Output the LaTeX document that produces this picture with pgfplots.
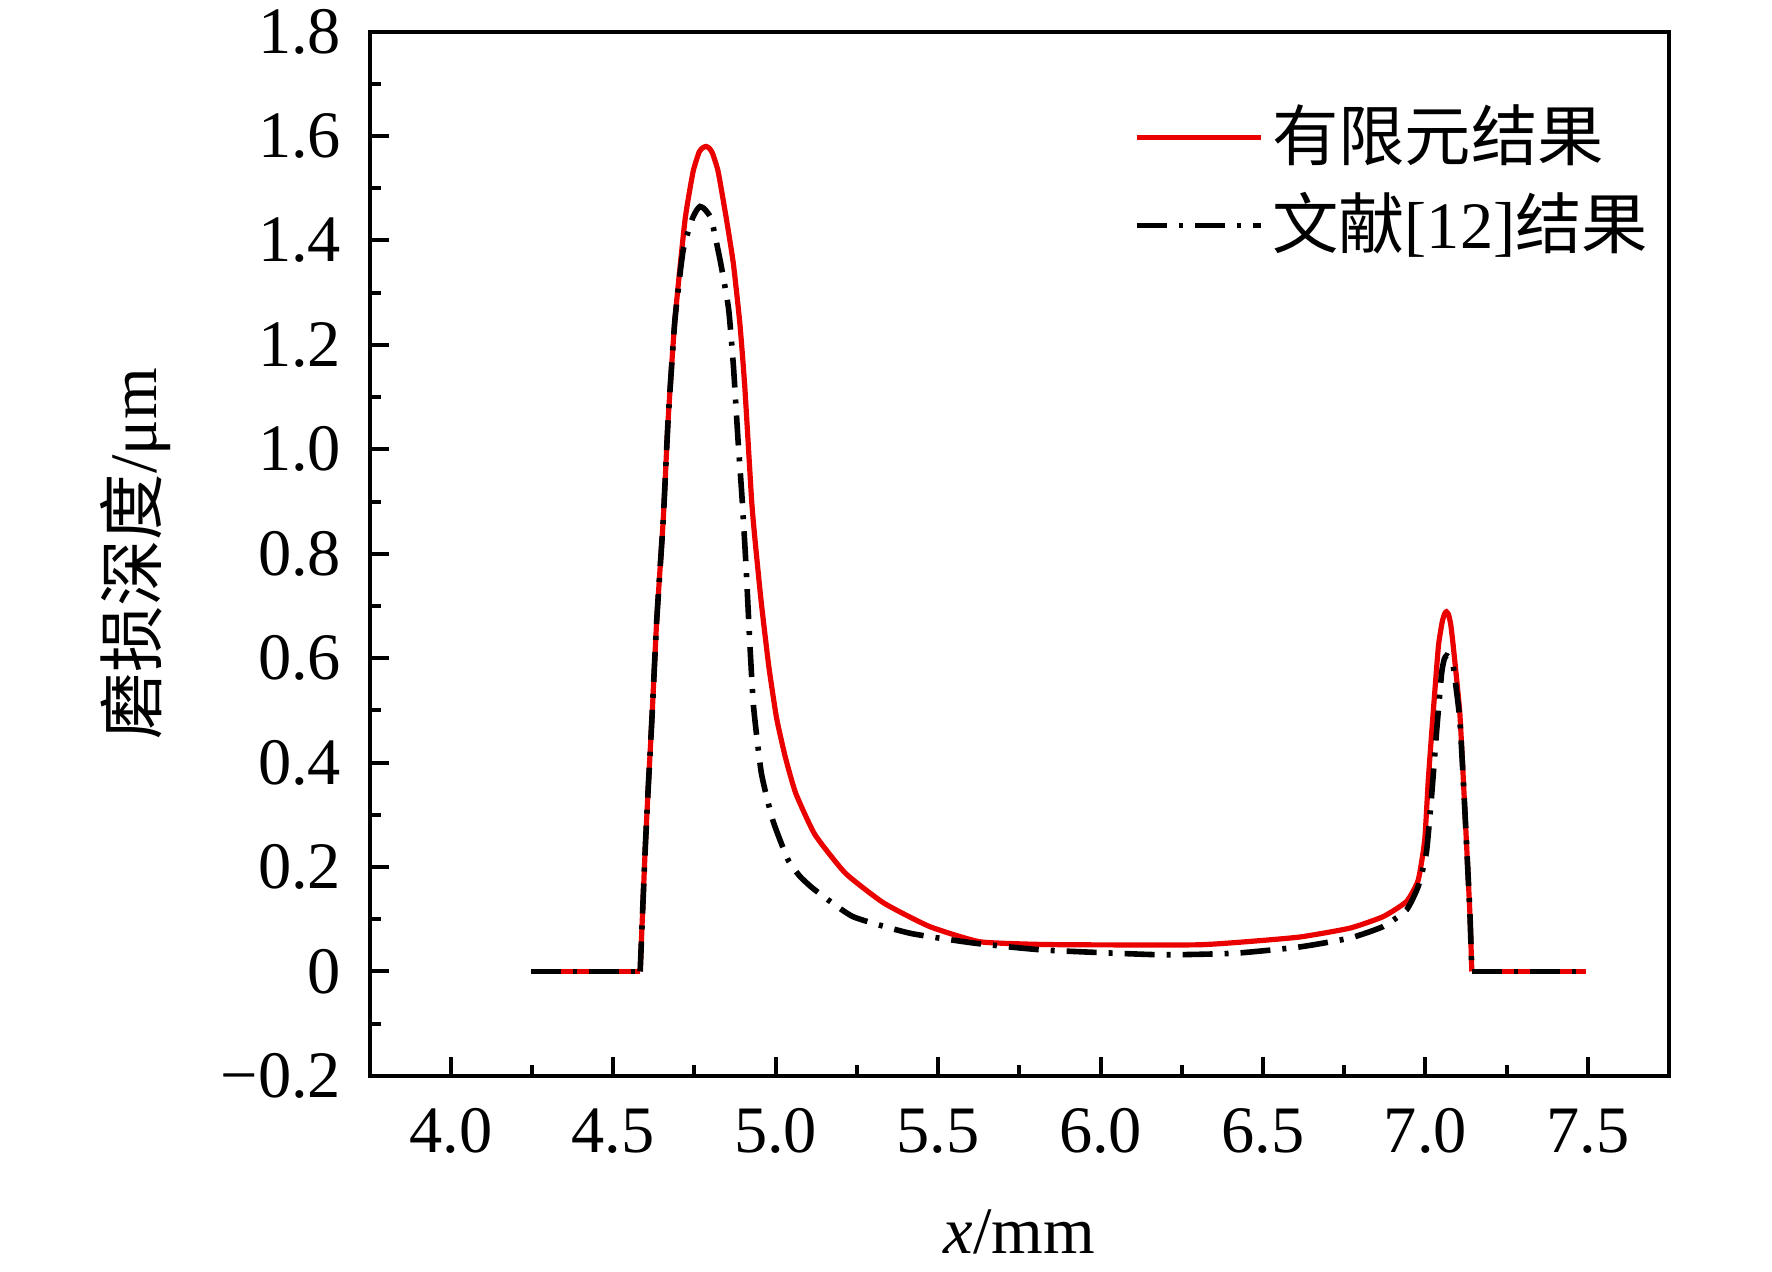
\documentclass[border=0pt]{standalone}
\usepackage{pgfplots}
\pgfplotsset{compat=1.18}
\usepackage{fontspec}
\setmainfont{Liberation Serif}
\newfontfamily\cjk{Noto Sans CJK SC}
\definecolor{fem}{RGB}{235,0,0}
\begin{document}
\fontsize{16.6}{20}\selectfont
\begin{tikzpicture}
\begin{axis}[
  scale only axis,
  width=324.9pt, height=261.1pt,
  xmin=3.75, xmax=7.75, ymin=-0.2, ymax=1.8,
  xtick={4.0,4.5,5.0,5.5,6.0,6.5,7.0,7.5},
  xticklabels={4.0,4.5,5.0,5.5,6.0,6.5,7.0,7.5},
  ytick={-0.2,0,0.2,0.4,0.6,0.8,1.0,1.2,1.4,1.6,1.8},
  yticklabels={−0.2,0,0.2,0.4,0.6,0.8,1.0,1.2,1.4,1.6,1.8},
  minor x tick num=1, minor y tick num=1,
  xtick pos=bottom, ytick pos=left,
  tick align=inside,
  major tick length=4.75pt, minor tick length=2.75pt,
  axis line style={line width=1pt},
  every tick/.style={line width=1pt, black},
  tick label style={font=\fontsize{16.6}{20}\selectfont},
  xticklabel style={yshift=-2.5pt},
  yticklabel style={xshift=-1.4pt},
  xlabel={\textit{x}/mm},
  ylabel={{\cjk 磨损深度}/μm},
  label style={font=\fontsize{16.6}{20}\selectfont},
  xlabel style={at={(axis description cs:0.5,-0.149)}, anchor=center},
  ylabel style={at={(axis description cs:-0.18,0.5)}, anchor=center},
  legend style={at={(axis description cs:1,1)}, anchor=north east,
    xshift=0pt, yshift=-14pt, draw=none, fill=none,
    font=\fontsize{16.6}{20}\selectfont,
    row sep=1.6pt, nodes={inner sep=2pt}},
  legend cell align=left,
  legend image code/.code={\draw[#1] (0pt,0pt) -- (31pt,0pt);},
]
\addplot[fem, line width=1.3pt, forget plot] coordinates {(4.247,0) (4.583,0)};
\addplot[fem, line width=1.3pt, forget plot] coordinates {(7.143,0) (7.493,0)};
\addplot[fem, line width=1.3pt, smooth, tension=0.3] coordinates {
(4.583,0) (4.598,0.227) (4.608,0.354) (4.619,0.482) (4.634,0.673)
(4.654,0.865) (4.669,1.056) (4.690,1.248) (4.721,1.439) (4.746,1.532)
(4.765,1.570) (4.777,1.578) (4.786,1.580) (4.795,1.577) (4.805,1.568) (4.823,1.532) (4.849,1.439)
(4.870,1.355) (4.890,1.240) (4.905,1.120) (4.926,0.903) (4.936,0.830)
(4.955,0.711) (4.979,0.584) (5.003,0.485) (5.030,0.410) (5.062,0.341)
(5.121,0.262) (5.215,0.188) (5.333,0.131) (5.474,0.086) (5.627,0.057)
(5.800,0.052) (5.945,0.051) (6.298,0.051) (6.450,0.057) (6.614,0.066)
(6.768,0.083) (6.870,0.105) (6.942,0.134) (6.978,0.175) (6.998,0.252)
(7.009,0.367) (7.024,0.495) (7.040,0.622) (7.052,0.670) (7.060,0.686) (7.065,0.689)
(7.071,0.684) (7.078,0.665) (7.086,0.622) (7.106,0.495) (7.122,0.303) (7.137,0.112)
(7.143,0)
};
\addlegendentry{{\cjk 有限元结果}}
\addplot[black, line width=1.4pt, forget plot, dash pattern=on 7.5pt off 3pt on 1pt off 3pt] coordinates {(4.247,0) (4.583,0)};
\addplot[black, line width=1.4pt, forget plot, dash pattern=on 7.5pt off 3pt on 1pt off 3pt] coordinates {(7.143,0) (7.493,0)};
\addplot[black, line width=1.4pt, smooth, tension=0.3, dash pattern=on 7.5pt off 3pt on 1pt off 3pt] coordinates {
(4.583,0) (4.598,0.227) (4.608,0.354) (4.619,0.482) (4.634,0.673)
(4.654,0.865) (4.669,1.056) (4.690,1.248) (4.715,1.380) (4.742,1.439)
(4.757,1.458) (4.767,1.465) (4.778,1.462) (4.788,1.455) (4.803,1.439) (4.831,1.356) (4.855,1.270)
(4.870,1.160) (4.884,1.020) (4.897,0.903) (4.909,0.775) (4.920,0.635) (4.932,0.507)
(4.956,0.380) (4.991,0.290) (5.038,0.214) (5.075,0.182) (5.121,0.156)
(5.238,0.105) (5.415,0.073) (5.615,0.054) (5.827,0.041) (6.181,0.032)
(6.416,0.035) (6.614,0.047) (6.768,0.064) (6.870,0.086) (6.942,0.118)
(6.978,0.163) (7.003,0.227) (7.019,0.335) (7.035,0.463) (7.050,0.571)
(7.058,0.598) (7.065,0.605) (7.073,0.602) (7.080,0.595) (7.086,0.584) (7.106,0.482) (7.122,0.303)
(7.137,0.112) (7.143,0)
};
\addlegendentry{{\cjk 文献}[12]{\cjk 结果}}
\end{axis}
\pgfresetboundingbox
\useasboundingbox ([xshift=-92.4pt,yshift=-49pt]current axis.south west) rectangle ([xshift=25.75pt,yshift=7.9pt]current axis.north east);
\end{tikzpicture}
\end{document}
